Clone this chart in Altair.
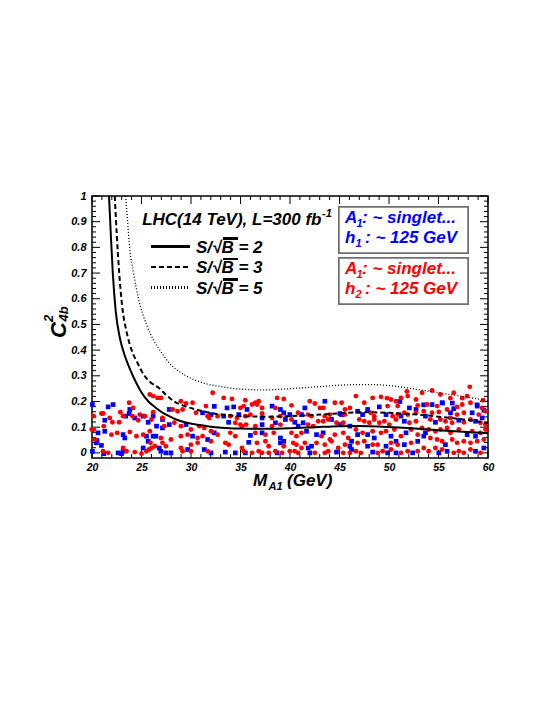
import altair as alt
import pandas as pd

# ---------------- data ----------------
blue_points = [
    [20.04, 0.188], [21.63, 0.179], [22.13, 0.188], [23.82, 0.169], [21.29, 0.127], [23.41, 0.143],
    [23.75, 0.153], [24.32, 0.136], [25.17, 0.143], [25.67, 0.119], [26.18, 0.143], [20.61, 0.078],
    [21.29, 0.084], [23.14, 0.071], [23.31, 0.058], [25.5, 0.065], [26.18, 0.065], [25.67, 0.045],
    [20.44, 0.039], [20.51, 0.048], [20.95, 0.029], [21.19, -0.003], [22.64, 0.0], [22.98, -0.003],
    [23.14, 0.006], [25.17, 0.019], [20.04, 0.006],
    [27.8, 0.169], [32.35, 0.181], [31.17, 0.156], [32.02, 0.149], [27.12, 0.13], [26.52, 0.104],
    [27.12, 0.097], [27.8, 0.11], [29.49, 0.110], [32.35, 0.078], [26.45, 0.065], [30.16, 0.065],
    [31.68, 0.052], [26.79, 0.019], [27.97, 0.0], [29.66, 0.013], [31.34, 0.013], [32.02, 0.0],
    [26.96, 0.006], [27.46, 0.0],
    [33.64, 0.175], [34.31, 0.179], [35.66, 0.169], [38.19, 0.182], [39.03, 0.169], [33.3, 0.143],
    [34.82, 0.149], [37.18, 0.136], [39.37, 0.156], [33.8, 0.119], [37.18, 0.110], [38.53, 0.117],
    [39.54, 0.130], [36.0, 0.068], [37.18, 0.078], [39.03, 0.058], [39.37, 0.045], [35.83, 0.041],
    [39.03, 0.039], [33.47, 0.003], [34.48, 0.0], [35.49, 0.0], [38.7, 0.0],
    [41.5, 0.175], [43.52, 0.201], [39.98, 0.149], [41.16, 0.149], [45.04, 0.153], [45.21, 0.149],
    [40.48, 0.119], [40.82, 0.104], [41.33, 0.117], [44.2, 0.13], [45.04, 0.110], [46.05, 0.104],
    [41.67, 0.084], [42.68, 0.071], [43.35, 0.078], [46.22, 0.045], [42.17, 0.026], [46.05, 0.026],
    [41.83, 0.019], [42.0, 0.0], [44.7, 0.003], [46.22, 0.013],
    [49.02, 0.179], [52.06, 0.175], [46.83, 0.162], [47.84, 0.169], [47.33, 0.149], [49.7, 0.149],
    [51.21, 0.143], [52.73, 0.169], [51.55, 0.123], [46.83, 0.071], [47.84, 0.071], [48.51, 0.058],
    [50.2, 0.065], [50.71, 0.045], [51.72, 0.078], [47.84, 0.026], [49.7, 0.026], [51.55, 0.032],
    [52.9, 0.045], [48.35, 0.003], [49.86, 0.0], [50.71, 0.0], [52.39, 0.0],
    [54.35, 0.188], [55.36, 0.195], [56.54, 0.172], [58.91, 0.182], [59.58, 0.166], [56.21, 0.156],
    [58.4, 0.156], [59.41, 0.136], [53.68, 0.143], [54.69, 0.119], [57.05, 0.127], [58.74, 0.123],
    [53.68, 0.078], [57.89, 0.071], [58.74, 0.065], [53.51, 0.065], [55.7, 0.032], [55.03, 0.0],
    [55.87, 0.006], [58.74, 0.006], [59.58, 0.019],
    [51.1, 0.2], [53.5, 0.187], [55.4, 0.194], [56.4, 0.194], [58.9, 0.187],
]

red_points = [
    [23.75, 0.195], [24.16, 0.175], [20.17, 0.143], [20.95, 0.153], [21.12, 0.153], [21.79, 0.136],
    [22.06, 0.119], [22.87, 0.158], [23.14, 0.143], [22.74, 0.119], [24.09, 0.143], [24.66, 0.127],
    [24.83, 0.149], [25.34, 0.143], [26.01, 0.130], [25.84, 0.227], [26.18, 0.221], [26.18, 0.158],
    [20.17, 0.091], [21.19, 0.104], [21.96, 0.071], [22.54, 0.078], [23.82, 0.081], [24.49, 0.065],
    [25.17, 0.071], [25.84, 0.084], [25.91, 0.039], [20.28, 0.052], [21.12, 0.006], [21.63, 0.0],
    [23.14, 0.019], [23.48, 0.006], [24.32, 0.003], [25.0, -0.003], [25.5, 0.006], [25.77, 0.013],
    [26.01, 0.019], [26.35, 0.026], [19.97, 0.091],
    [26.62, 0.214], [26.96, 0.214], [28.98, 0.201], [29.49, 0.192], [30.16, 0.195], [32.19, 0.234],
    [31.51, 0.182], [28.14, 0.169], [28.64, 0.162], [29.15, 0.169], [30.5, 0.156], [31.68, 0.143],
    [31.85, 0.136], [32.69, 0.143], [27.12, 0.136], [27.29, 0.104], [28.31, 0.117], [28.98, 0.104],
    [29.99, 0.091], [30.84, 0.104], [31.34, 0.097], [32.02, 0.084], [32.69, 0.071], [26.96, 0.058],
    [27.97, 0.052], [28.98, 0.065], [29.66, 0.071], [30.67, 0.058], [31.17, 0.065], [32.02, 0.045],
    [27.12, 0.039], [27.46, 0.026], [28.98, 0.019], [29.15, 0.006], [29.99, 0.006], [31.68, 0.006],
    [29.99, 0.032], [30.67, 0.039],
    [33.3, 0.214], [34.14, 0.21], [35.49, 0.205], [36.17, 0.188], [36.5, 0.195], [36.84, 0.201],
    [34.99, 0.175], [35.32, 0.182], [36.67, 0.188], [37.18, 0.175], [38.53, 0.175], [38.7, 0.214],
    [39.37, 0.21], [33.97, 0.143], [34.65, 0.136], [35.49, 0.143], [36.0, 0.149], [37.18, 0.153],
    [38.19, 0.136], [39.03, 0.143], [34.48, 0.117], [34.99, 0.110], [35.15, 0.104], [35.56, 0.110],
    [36.5, 0.104], [38.19, 0.104], [39.03, 0.110], [33.97, 0.078], [34.48, 0.065], [36.5, 0.078],
    [37.52, 0.071], [38.36, 0.078], [33.47, 0.039], [33.8, 0.032], [35.15, 0.019], [36.67, 0.039],
    [37.52, 0.045], [37.85, 0.026], [39.37, 0.026], [35.32, 0.006], [36.17, 0.0], [36.84, 0.006],
    [37.18, 0.0], [37.85, 0.0], [38.53, 0.006], [39.2, 0.0],
    [40.15, 0.185], [42.0, 0.201], [42.51, 0.192], [43.02, 0.175], [43.35, 0.175], [44.53, 0.195],
    [45.21, 0.195], [46.05, 0.175], [45.55, 0.169], [40.82, 0.156], [41.83, 0.149], [42.17, 0.143],
    [43.52, 0.143], [44.03, 0.149], [45.55, 0.149], [40.15, 0.13], [41.83, 0.110], [42.34, 0.104],
    [42.85, 0.123], [43.35, 0.123], [43.86, 0.130], [44.7, 0.117], [45.38, 0.117], [40.15, 0.078],
    [40.65, 0.065], [41.16, 0.078], [43.18, 0.065], [44.03, 0.052], [44.53, 0.071], [45.38, 0.078],
    [45.88, 0.058], [40.32, 0.039], [40.65, 0.032], [41.16, 0.019], [41.5, 0.039], [42.68, 0.039],
    [43.52, 0.032], [44.2, 0.045], [44.87, 0.019], [45.55, 0.032], [39.98, 0.006], [40.48, 0.006],
    [40.82, 0.0], [42.51, 0.0], [43.52, 0.0], [43.86, 0.006], [45.38, 0.0], [46.05, 0.0],
    [46.66, 0.221], [48.35, 0.214], [49.19, 0.218], [50.2, 0.208], [50.71, 0.201], [51.21, 0.214],
    [51.89, 0.221], [52.73, 0.208], [47.5, 0.195], [49.86, 0.182], [50.88, 0.182], [52.9, 0.185],
    [51.55, 0.156], [48.18, 0.156], [48.51, 0.143], [50.37, 0.143], [50.88, 0.149], [51.89, 0.149],
    [52.73, 0.156], [47.0, 0.130], [47.5, 0.123], [48.01, 0.117], [48.51, 0.130], [49.02, 0.117],
    [49.53, 0.123], [50.03, 0.110], [50.71, 0.130], [52.06, 0.117], [52.73, 0.123], [46.66, 0.091],
    [47.33, 0.078], [48.35, 0.084], [49.19, 0.078], [49.7, 0.084], [50.54, 0.091], [51.21, 0.065],
    [52.23, 0.091], [52.9, 0.071], [46.83, 0.039], [47.5, 0.045], [48.35, 0.032], [48.85, 0.032],
    [50.2, 0.039], [50.88, 0.032], [52.23, 0.039], [46.66, 0.006], [47.16, 0.0], [48.85, 0.0],
    [49.36, 0.006], [50.2, 0.013], [51.21, 0.0], [51.89, 0.006], [52.9, 0.006],
    [58.16, 0.257], [53.34, 0.234], [55.19, 0.227], [56.54, 0.234], [57.89, 0.221], [53.84, 0.188],
    [54.86, 0.182], [55.87, 0.169], [56.88, 0.179], [57.39, 0.188], [58.23, 0.195], [59.41, 0.175],
    [53.51, 0.162], [54.35, 0.156], [55.03, 0.159], [56.88, 0.149], [57.56, 0.156], [59.07, 0.149],
    [59.75, 0.162], [54.18, 0.130], [55.19, 0.130], [55.7, 0.123], [56.21, 0.136], [56.38, 0.117],
    [57.56, 0.119], [58.23, 0.130], [59.24, 0.117], [59.75, 0.110], [53.34, 0.097], [54.01, 0.091],
    [54.69, 0.084], [55.19, 0.091], [55.87, 0.097], [56.21, 0.078], [57.05, 0.091], [58.4, 0.084],
    [59.24, 0.078], [59.75, 0.091], [54.18, 0.058], [54.86, 0.052], [55.36, 0.045], [56.38, 0.052],
    [56.88, 0.039], [57.56, 0.045], [58.23, 0.039], [58.91, 0.045], [59.58, 0.052], [53.51, 0.019],
    [54.01, 0.006], [54.69, 0.019], [55.36, 0.013], [56.54, 0.0], [57.05, 0.006], [57.56, 0.0],
    [58.23, 0.013], [59.24, 0.0],
    [51.8, 0.239], [54.35, 0.243], [56.2, 0.213], [57.4, 0.213], [49.8, 0.213], [59.5, 0.205],
]

s2_x = [21.72, 21.9, 22.1, 22.4, 22.8, 23.3, 23.9, 24.5, 25.0, 25.7, 26.5, 27.2, 27.9, 28.5, 29.5,
        30.5, 31.8, 33.1, 35, 37.5, 40, 42.5, 45, 47, 49, 51, 53, 55, 57.5, 60]
s2_y = [1.0, 0.85, 0.7, 0.55, 0.45, 0.38, 0.32, 0.27, 0.235, 0.2, 0.174, 0.155, 0.141, 0.13, 0.118,
        0.11, 0.103, 0.098, 0.095, 0.094, 0.096, 0.1, 0.104, 0.105, 0.103, 0.099, 0.094, 0.088, 0.082, 0.076]

s3_x = [22.3, 22.5, 22.75, 23.05, 23.5, 24.0, 24.6, 25.3, 25.9, 26.85, 27.5, 28.3, 29.3, 30.5, 31.8,
        33.1, 35, 37.5, 40, 42.5, 45, 47.5, 50, 52.5, 55, 57.5, 60]
s3_y = [1.0, 0.85, 0.7, 0.57, 0.47, 0.4, 0.35, 0.3, 0.275, 0.25, 0.225, 0.2, 0.183, 0.169, 0.157,
        0.149, 0.143, 0.141, 0.143, 0.148, 0.154, 0.158, 0.156, 0.15, 0.141, 0.13, 0.116]

s5_x = [23.4, 23.6, 23.8, 24.2, 24.7, 25.5, 26.2, 26.85, 27.8, 29.5, 31.0, 33.0, 35.0, 37.5,
        40, 43, 46, 48, 50, 52, 54, 56, 58, 60]
s5_y = [1.0, 0.9, 0.8, 0.7, 0.6, 0.5, 0.44, 0.4, 0.35, 0.3, 0.275, 0.258, 0.248, 0.245,
        0.25, 0.258, 0.265, 0.266, 0.262, 0.252, 0.24, 0.228, 0.216, 0.203]

x_major = [20, 25, 30, 35, 40, 45, 50, 55, 60]
x_minor = [v for v in range(21, 60) if v % 5 != 0]
y_major = [0, 0.1, 0.2, 0.3, 0.4, 0.5, 0.6, 0.7, 0.8, 0.9, 1]
y_minor = [round(0.02 * i, 2) for i in range(1, 50) if i % 5 != 0]

# ---------------- chart ----------------
FONT = "Liberation Sans"
W, H = 396, 262
DOT = [1, 2]

xsc = alt.Scale(domain=[20, 60], nice=False, zero=False)
ysc = alt.Scale(domain=[-0.02, 1.0], nice=False, zero=False)

lab = dict(labelFont=FONT, labelFontWeight="bold", labelFontStyle="italic",
           labelColor="black", ticks=False, domain=False, grid=False, title=None,
           labelFlush=False, labelOverlap=False)
xaxis = alt.Axis(values=x_major, labelPadding=4, labelFontSize=10.5, **lab)
yaxis = alt.Axis(values=y_major, format=".1~f", labelPadding=6, labelFontSize=11, **lab)

X = alt.X("m:Q", scale=xsc, axis=xaxis)
Y = alt.Y("c:Q", scale=ysc, axis=yaxis)

blue_df = pd.DataFrame(blue_points, columns=["m", "c"])
red_df = pd.DataFrame(red_points, columns=["m", "c"])

layers = []

# ticks (inside, all four sides)
xmaj = pd.DataFrame({"m": x_major})
xmin = pd.DataFrame({"m": x_minor})
ymaj = pd.DataFrame({"c": y_major})
ymin = pd.DataFrame({"c": y_minor})
for df, ln in [(xmaj, 8), (xmin, 4)]:
    layers.append(alt.Chart(df).mark_rule(color="black", strokeWidth=1).encode(
        x=X, y=alt.value(H), y2=alt.value(H - ln)))
    layers.append(alt.Chart(df).mark_rule(color="black", strokeWidth=1).encode(
        x=X, y=alt.value(0), y2=alt.value(ln)))
for df, ln in [(ymaj, 8), (ymin, 4)]:
    layers.append(alt.Chart(df).mark_rule(color="black", strokeWidth=1).encode(
        y=Y, x=alt.value(0), x2=alt.value(ln)))
    layers.append(alt.Chart(df).mark_rule(color="black", strokeWidth=1).encode(
        y=Y, x=alt.value(W), x2=alt.value(W - ln)))

layers.append(alt.Chart(blue_df).mark_square(size=22, color="#0000ff", opacity=1).encode(x=X, y=Y))
layers.append(alt.Chart(red_df).mark_circle(size=24, color="#ff0000", opacity=1).encode(x=X, y=Y))

for cx, cy, dash, sw in [(s2_x, s2_y, None, 2), (s3_x, s3_y, [5, 3], 2), (s5_x, s5_y, DOT, 1.3)]:
    df = pd.DataFrame({"m": cx, "c": cy})
    kw = dict(color="black", strokeWidth=sw, clip=True, interpolate="monotone")
    if dash:
        kw["strokeDash"] = dash
    layers.append(alt.Chart(df).mark_line(**kw).encode(x=X, y=Y, order="m:Q"))

# legend boxes
for y0, y1 in [(11, 57), (62, 108)]:
    layers.append(alt.Chart(blue_df).mark_rect(fill="white", stroke="#707070", strokeWidth=1.5).encode(
        x=alt.value(247), x2=alt.value(376), y=alt.value(y0), y2=alt.value(y1)))

# legend line samples
for yy, dash, sw in [(50.5, None, 2), (71, [5, 3], 2), (91.5, DOT, 1.3)]:
    kw = dict(color="black", strokeWidth=sw)
    if dash:
        kw["strokeDash"] = dash
    layers.append(alt.Chart(blue_df).mark_rule(**kw).encode(
        x=alt.value(59), x2=alt.value(98), y=alt.value(yy)))

# overline of the square root (vinculum over B)
for yy in [56.5, 77, 97.5]:
    layers.append(alt.Chart(blue_df).mark_rule(color="black", strokeWidth=1.5).encode(
        x=alt.value(131), x2=alt.value(146), y=alt.value(yy - 14)))


def label_layer(rows, color, align="left", angle=0):
    df = pd.DataFrame(rows, columns=["px", "py", "t", "fs"])
    return alt.Chart(df).mark_text(
        align=align, baseline="alphabetic", font=FONT, fontStyle="italic", fontWeight="bold",
        color=color, angle=angle).encode(
        x=alt.X("px:Q", scale=None, axis=None), y=alt.Y("py:Q", scale=None, axis=None),
        text="t:N", size=alt.Size("fs:Q", scale=None, legend=None))


layers.append(label_layer([[229.5, 29, "LHC(14 TeV), L=300 fb", 17]], "black", align="right"))
layers.append(label_layer([
    [230, 21, "-1", 11],
    [104, 56.5, "S/√B = 2", 17],
    [104, 77, "S/√B = 3", 17],
    [104, 97.5, "S/√B = 5", 17],
    [161, 290, "M", 17],
    [176.5, 294, "A1", 11],
    [195, 290, "(GeV)", 17],
], "black"))
layers.append(label_layer([
    [253, 27, "A", 17], [264.5, 31, "1", 11], [270, 27, ": ~ singlet...", 17],
    [253, 47.3, "h", 17], [263.5, 51, "1", 11], [273, 47.3, ": ~ 125 GeV", 17],
], "#0000ff"))
layers.append(label_layer([
    [253, 78, "A", 17], [264.5, 82, "1", 11], [270, 78, ": ~ singlet...", 17],
    [253, 98, "h", 17], [263.5, 102, "2", 11], [273, 98, ": ~ 125 GeV", 17],
], "#ff0000"))
layers.append(label_layer([
    [-25.6, 142, "C", 22],
    [-39, 126, "2", 13],
    [-24.5, 125.5, "4b", 13],
], "black", angle=270))

chart = alt.layer(*layers).properties(
    width=W, height=H,
    autosize=alt.AutoSizeParams(type="none"),
    padding={"left": 84, "top": 188, "right": 49, "bottom": 239},
).configure_view(stroke="black", strokeWidth=1.5)

chart.save("out.html", embed_options={"renderer": "svg", "actions": False})
